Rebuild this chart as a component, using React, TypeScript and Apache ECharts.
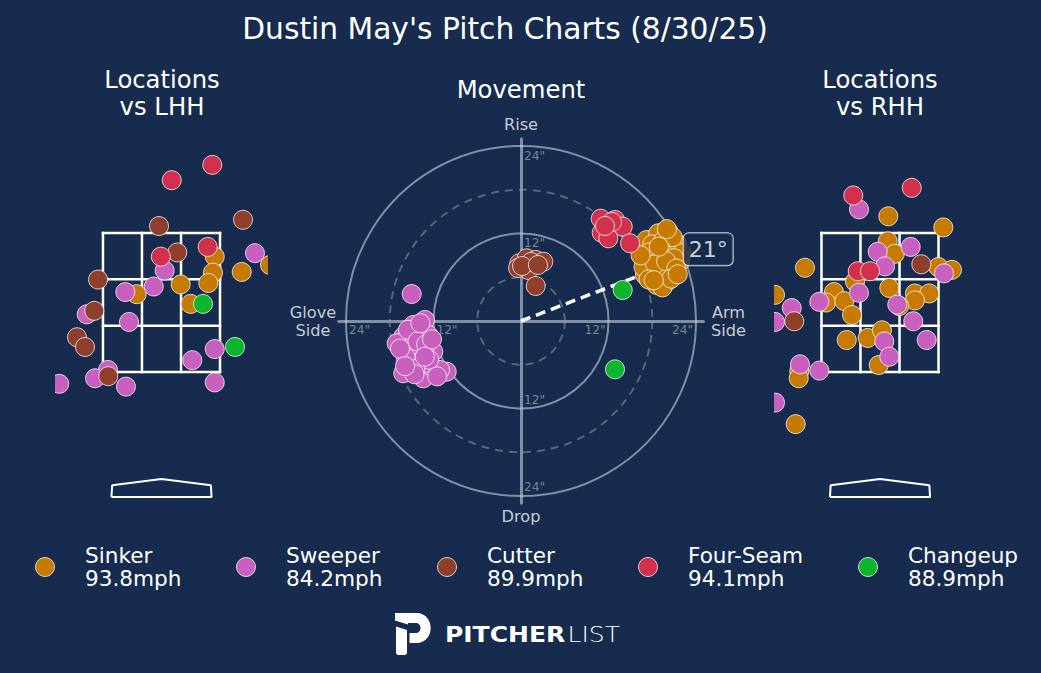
import React, { useEffect, useRef } from 'react';
import * as echarts from 'echarts';

const FONT = '"DejaVu Sans", sans-serif';
const BG = '#162b4d';
const EDGE = 'rgba(255,255,255,0.75)';
const DOT_R = 9.5;

const chartTitle = "Dustin May's Pitch Charts (8/30/25)";

const pitchNames = ['Sinker', 'Sweeper', 'Cutter', 'Four-Seam', 'Changeup'];
const pitchColors = ['#c67b00', '#c95fbf', '#8f3f2c', '#d3304e', '#0db52d'];
const pitchSpeeds = [93.8, 84.2, 89.9, 94.1, 88.9];

// locations vs LHH, [horizontal ft, height ft]
const lhhSinker = [[0.755, 3.16], [0.73, 2.93], [1.138, 2.94], [1.539, 3.04], [-0.352, 2.62], [0.272, 2.76], [0.664, 2.78], [0.414, 2.48]];
const lhhSweeper = [[1.326, 3.21], [0.045, 2.96], [-0.513, 2.65], [-0.11, 2.73], [-1.061, 2.33], [-0.461, 2.22], [0.437, 1.67], [0.755, 1.83], [-0.759, 1.53], [-0.943, 1.41], [-1.45, 1.33], [-0.504, 1.29], [0.755, 1.35]];
const lhhCutter = [[-0.035, 3.6], [1.156, 3.69], [0.224, 3.22], [-0.9, 2.83], [-0.953, 2.38], [-1.199, 2.0], [-1.085, 1.86], [-0.755, 1.44]];
const lhhFourSeam = [[0.72, 4.48], [0.145, 4.26], [0.655, 3.3], [-0.01, 3.16]];
const lhhChangeup = [[0.589, 2.48], [1.043, 1.86]];

// locations vs RHH
const rhhSinker = [[0.118, 3.74], [0.898, 3.58], [0.109, 3.38], [0.209, 3.2], [-1.064, 3.0], [0.827, 3.01], [1.021, 2.97], [-0.355, 2.8], [-0.652, 2.65], [-0.766, 2.5], [-0.506, 2.52], [0.132, 2.71], [0.496, 2.63], [0.699, 2.63], [0.496, 2.53], [0.274, 2.45], [-0.397, 2.32], [-1.489, 2.61], [-0.472, 1.96], [-0.174, 1.99], [0.028, 2.1], [-0.018, 1.6], [-1.145, 1.51], [-1.153, 1.41], [-1.196, 0.75]];
const rhhSweeper = [[-0.298, 3.84], [-0.033, 3.23], [0.435, 3.3], [0.071, 3.02], [0.908, 2.92], [-0.298, 2.64], [-0.861, 2.51], [-1.252, 2.42], [-1.489, 2.22], [0.245, 2.47], [0.472, 2.23], [0.662, 1.96], [0.061, 1.94], [0.132, 1.72], [-1.135, 1.61], [-0.861, 1.52], [-1.489, 1.06]];
const rhhCutter = [[0.586, 3.05], [-1.216, 2.23]];
const rhhFourSeam = [[-0.379, 4.04], [0.45, 4.15], [-0.316, 2.95], [-0.142, 2.95]];
const rhhChangeup: number[][] = [];

const zoneX = [-0.83, -0.277, 0.277, 0.83];
const zoneZ = [1.5, 2.167, 2.833, 3.5];
const plateOutline = [[-0.71, -0.3], [0.71, -0.3], [0.7, -0.13], [0, -0.04], [-0.7, -0.13], [-0.71, -0.3]];

// movement, [horizontal in, induced vertical in]
const mvSinker = [[17.24, 11.11], [18.83, 12.03], [20.21, 12.25], [21.36, 10.66], [17.01, 8.37], [18.83, 8.6], [20.44, 9.74], [21.81, 8.13], [17.01, 6.31], [19.99, 5.39], [18.61, 4.94], [20.67, 7.0], [18.15, 7.0], [19.3, 6.08], [22.04, 9.29], [18.0, 10.5], [19.5, 11.0], [20.8, 11.5], [17.6, 9.4], [19.2, 9.8], [21.0, 8.6], [16.8, 7.4], [18.4, 7.8], [19.9, 8.2], [21.3, 7.2], [17.5, 5.7], [19.4, 4.6], [20.6, 5.8], [18.9, 10.2], [20.0, 12.6], [16.4, 9.0], [21.5, 6.4], [18.2, 5.6]];
const mvSweeper = [[-13.17, 0.14], [-14.77, -0.55], [-16.15, -2.15], [-17.05, -3.06], [-13.95, -1.69], [-12.72, -1.92], [-15.23, -4.43], [-12.03, -4.21], [-14.09, -4.21], [-16.15, -7.17], [-13.4, -7.86], [-12.03, -6.49], [-10.19, -6.95], [-11.11, -6.72], [-14.77, -5.8], [-13.4, -5.8], [-14.99, 3.7], [-15.5, -1.2], [-14.2, -2.8], [-13.0, -3.2], [-15.8, -5.0], [-12.6, -5.3], [-14.5, -6.6], [-11.5, -7.6], [-13.8, -0.3], [-16.6, -3.8], [-12.2, -2.5], [-14.6, -7.3], [-15.9, -6.2], [-13.2, -4.9]];
const mvCutter = [[-0.23, 7.91], [0.78, 8.6], [2.02, 8.37], [3.06, 8.13], [1.0, 7.0], [-0.41, 7.27], [2.02, 4.8], [1.37, 8.09], [0.14, 7.54], [2.33, 7.68]];
const mvFourSeam = [[10.93, 14.03], [12.89, 13.85], [13.95, 12.94], [11.07, 12.11], [11.98, 11.34], [14.95, 10.66], [12.48, 13.58], [11.52, 13.03]];
const mvChangeup = [[13.95, 4.25], [12.89, -6.63]];

const ringSolid = [12, 24];
const ringDashed = [6, 18];
const ringTicks = [12, 24];
const armAngle = 21;
const armLineLength = 20;

// legend marker centres along the bottom row
const legendX = [45, 246, 447, 648, 868];
const LEGEND_Y = 567;

const LOGO_PATH =
    'M0 0 H22 C29.5 0 35.7 6.5 35.7 15 C35.7 23.5 29.5 30 22 30 H14.5 V20 H21 C23.8 20 25.5 17.8 25.5 15 C25.5 12.2 23.8 10 21 10 H13 V11.5 L0 7.5 Z ' +
    'M1 13.5 L12 17 V39.5 C12 41 11 42 9.5 42 H3.5 C2 42 1 41 1 39.5 Z';
echarts.graphic.registerShape('plLogo', echarts.graphic.extendPath(LOGO_PATH, {}));

const dotSeries = (name: string, color: string, data: number[][], axis: number) => ({
    type: 'custom',
    name,
    xAxisIndex: axis,
    yAxisIndex: axis,
    data,
    clip: true,
    silent: true,
    z: 5,
    itemStyle: { color, borderColor: EDGE, borderWidth: 1 },
    renderItem: (_params: any, api: any) => {
        const p = api.coord([api.value(0), api.value(1)]);
        return {
            type: 'circle',
            shape: { cx: p[0], cy: p[1], r: DOT_R },
            style: { fill: color, stroke: EDGE, lineWidth: 1 },
        };
    },
});

const zoneSegments = [
    ...zoneX.map(x => [x, zoneZ[0], x, zoneZ[zoneZ.length - 1]]),
    ...zoneZ.map(z => [zoneX[0], z, zoneX[zoneX.length - 1], z]),
];

const zoneSeries = (axis: number) => ({
    type: 'custom',
    xAxisIndex: axis,
    yAxisIndex: axis,
    silent: true,
    z: 2,
    data: zoneSegments,
    encode: { x: [0, 2], y: [1, 3] },
    renderItem: (_params: any, api: any) => {
        const a = api.coord([api.value(0), api.value(1)]);
        const b = api.coord([api.value(2), api.value(3)]);
        return {
            type: 'line',
            shape: { x1: a[0], y1: a[1], x2: b[0], y2: b[1] },
            style: { stroke: '#ffffff', lineWidth: 2.5, lineCap: 'square' },
        };
    },
});

const plateSeries = (axis: number) => ({
    type: 'line',
    xAxisIndex: axis,
    yAxisIndex: axis,
    silent: true,
    data: plateOutline,
    symbol: 'none',
    lineStyle: { color: '#ffffff', width: 2 },
    z: 2,
});

const App: React.FC = () => {
    const chartRef = useRef<HTMLDivElement>(null);

    useEffect(() => {
        document.body.style.margin = '0';
        if (!chartRef.current) return;
        const chart = echarts.init(chartRef.current, undefined, { renderer: 'svg' });

        const lhh = [lhhSinker, lhhSweeper, lhhCutter, lhhFourSeam, lhhChangeup];
        const rhh = [rhhSinker, rhhSweeper, rhhCutter, rhhFourSeam, rhhChangeup];
        const mv = [mvSinker, mvSweeper, mvCutter, mvFourSeam, mvChangeup];

        const rad = (armAngle * Math.PI) / 180;
        const armEnd = [armLineLength * Math.cos(rad), armLineLength * Math.sin(rad)];
        const labelAt = [27.5 * Math.cos(rad), 27.5 * Math.sin(rad)];

        const tickData = ringTicks.flatMap(t => [
            { value: [0, t], name: `${t}"`, label: { align: 'left', offset: [3, 10] } },
            { value: [0, -t], name: `${t}"`, label: { align: 'left', offset: [3, -9] } },
            { value: [-t, 0], name: `${t}"`, label: { align: 'left', offset: [3, 9] } },
            { value: [t, 0], name: `${t}"`, label: { align: 'right', offset: [-3, 9] } },
        ]);

        const locAxisX = (gridIndex: number) => ({ type: 'value', gridIndex, min: -1.5, max: 1.5, show: false });
        const locAxisY = (gridIndex: number) => ({ type: 'value', gridIndex, min: -0.5, max: 5, show: false });
        const mvAxis = (gridIndex: number) => ({
            type: 'value',
            gridIndex,
            min: -25,
            max: 25,
            axisLine: { show: true, onZero: true, lineStyle: { color: 'rgba(205,210,220,0.6)', width: 3 } },
            axisTick: { show: false },
            axisLabel: { show: false },
            splitLine: { show: false },
        });

        const textEl = (text: string, x: number, y: number, fontSize: number, fill: string, lineHeight?: number, align = 'center') => ({
            type: 'text',
            x,
            y,
            silent: true,
            style: {
                text,
                fill,
                fontSize,
                fontFamily: FONT,
                align,
                verticalAlign: 'middle',
                lineHeight: lineHeight ?? Math.round(fontSize * 1.2),
            },
        });

        const legendEls = pitchNames.flatMap((name, i) => [
            {
                type: 'circle',
                silent: true,
                shape: { cx: legendX[i], cy: LEGEND_Y, r: DOT_R },
                style: { fill: pitchColors[i], stroke: EDGE, lineWidth: 1 },
            },
            textEl(`${name}\n${pitchSpeeds[i]}mph`, legendX[i] + 40, LEGEND_Y, 21.6, '#ffffff', 23.5, 'left'),
        ]);

        chart.setOption({
            animation: false,
            backgroundColor: BG,
            grid: [
                { left: 55.75, top: 128.75, width: 211.5, height: 382.25 },
                { left: 338.7, top: 138.7, width: 364.6, height: 364.6 },
                { left: 774.25, top: 128.75, width: 211.5, height: 382.25 },
            ],
            xAxis: [locAxisX(0), mvAxis(1), locAxisX(2)],
            yAxis: [locAxisY(0), mvAxis(1), locAxisY(2)],
            graphic: [
                textEl(chartTitle, 505, 28, 29.7, '#ffffff'),
                textEl('Locations\nvs LHH', 162, 93, 24.3, '#ffffff', 27),
                textEl('Movement', 521, 89, 24.3, '#ffffff'),
                textEl('Locations\nvs RHH', 880, 93, 24.3, '#ffffff', 27),
                textEl('Rise', 521, 124, 16.2, '#c6cbd5'),
                textEl('Drop', 521, 516.5, 16.2, '#c6cbd5'),
                textEl('Glove\nSide', 313, 321.5, 16.2, '#c6cbd5', 18),
                textEl('Arm\nSide', 728.5, 321.5, 16.2, '#c6cbd5', 18),
                ...legendEls,
                { type: 'plLogo', x: 395, y: 613, silent: true, style: { fill: '#ffffff' } },
                {
                    type: 'group',
                    x: 445,
                    y: 635,
                    scaleX: 1.19,
                    silent: true,
                    children: [
                        {
                            type: 'text',
                            x: 0,
                            y: 0,
                            style: { text: 'PITCHER', fill: '#ffffff', fontSize: 21, fontWeight: 'bold', fontFamily: FONT, verticalAlign: 'middle' },
                        },
                        {
                            type: 'text',
                            x: 103,
                            y: 0,
                            style: { text: 'LIST', fill: '#ffffff', fontSize: 21, fontWeight: 200, fontFamily: FONT, verticalAlign: 'middle' },
                        },
                    ],
                },
            ],
            series: [
                zoneSeries(0),
                plateSeries(0),
                ...pitchNames.map((n, i) => dotSeries(n, pitchColors[i], lhh[i], 0)),
                {
                    type: 'custom',
                    xAxisIndex: 1,
                    yAxisIndex: 1,
                    silent: true,
                    clip: false,
                    z: 1,
                    data: [...ringDashed.map(r => [r, 0, 1]), ...ringSolid.map(r => [r, 0, 0])],
                    renderItem: (_params: any, api: any) => {
                        const c = api.coord([0, 0]);
                        const e = api.coord([api.value(0), 0]);
                        const dashed = api.value(2) === 1;
                        return {
                            type: 'circle',
                            shape: { cx: c[0], cy: c[1], r: e[0] - c[0] },
                            style: {
                                fill: 'none',
                                stroke: dashed ? 'rgba(150,160,180,0.5)' : 'rgba(205,210,220,0.6)',
                                lineWidth: 2,
                                lineDash: dashed ? [8, 6] : null,
                            },
                        };
                    },
                },
                {
                    type: 'line',
                    xAxisIndex: 1,
                    yAxisIndex: 1,
                    silent: true,
                    symbol: 'none',
                    z: 3,
                    data: [[0, 0], armEnd],
                    lineStyle: { color: '#ffffff', width: 3.5, type: [10, 6] },
                },
                ...pitchNames.map((n, i) => dotSeries(n, pitchColors[i], mv[i], 1)),
                {
                    type: 'scatter',
                    xAxisIndex: 1,
                    yAxisIndex: 1,
                    silent: true,
                    symbolSize: 0,
                    z: 4,
                    data: tickData,
                    label: {
                        show: true,
                        position: 'inside',
                        formatter: '{b}',
                        color: 'rgba(170,178,195,0.85)',
                        fontSize: 12.2,
                        fontFamily: FONT,
                        verticalAlign: 'middle',
                    },
                },
                {
                    type: 'scatter',
                    xAxisIndex: 1,
                    yAxisIndex: 1,
                    silent: true,
                    clip: false,
                    symbolSize: 0,
                    z: 6,
                    data: [{ value: labelAt, name: `${armAngle}°` }],
                    label: {
                        show: true,
                        position: 'inside',
                        formatter: '{b}',
                        color: '#ffffff',
                        fontSize: 22,
                        lineHeight: 26,
                        fontFamily: FONT,
                        backgroundColor: BG,
                        borderColor: '#ffffff',
                        borderWidth: 1,
                        borderRadius: 5,
                        padding: [3, 5],
                    },
                },
                zoneSeries(2),
                plateSeries(2),
                ...pitchNames.map((n, i) => dotSeries(n, pitchColors[i], rhh[i], 2)),
            ],
        });

        return () => chart.dispose();
    }, []);

    return <div ref={chartRef} style={{ width: 1041, height: 673, background: BG }} />;
};

export default App;
